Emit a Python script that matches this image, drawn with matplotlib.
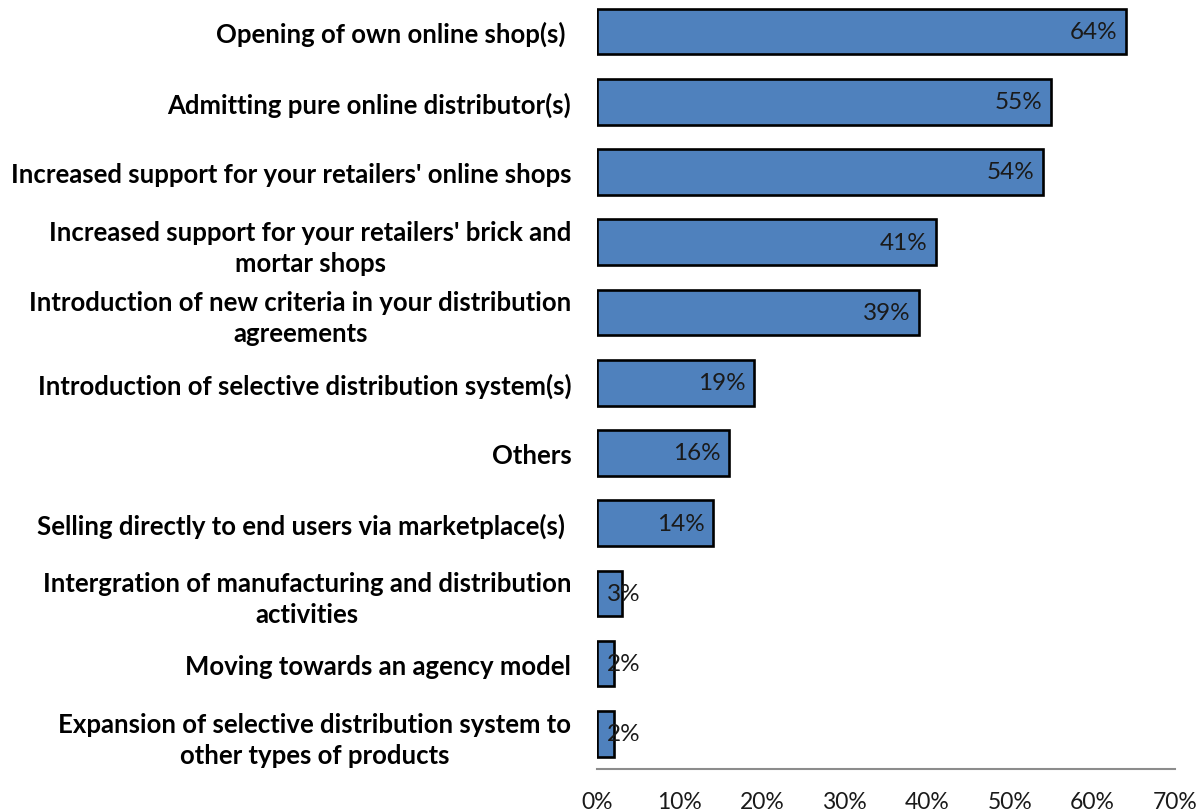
import matplotlib
matplotlib.use("Agg")
import matplotlib.pyplot as plt
from matplotlib.ticker import FuncFormatter

categories = [
    "Opening of own online shop(s) ",
    "Admitting pure online distributor(s)",
    "Increased support for your retailers' online shops",
    "Increased support for your retailers' brick and\nmortar shops",
    "Introduction of new criteria in your distribution\nagreements",
    "Introduction of selective distribution system(s)",
    "Others",
    "Selling directly to end users via marketplace(s) ",
    "Intergration of manufacturing and distribution\nactivities",
    "Moving towards an agency model",
    "Expansion of selective distribution system to\nother types of products",
]
values = [64, 55, 54, 41, 39, 19, 16, 14, 3, 2, 2]
x_ticks = [0, 10, 20, 30, 40, 50, 60, 70]

plt.rcParams["font.family"] = ["Lato", "DejaVu Sans"]

fig = plt.figure(figsize=(12.03, 8.12), dpi=100)
ax = fig.add_axes([0.4963, 0.0517, 0.4805, 0.9515])

n = len(categories)
ypos = list(range(n))
ax.barh(ypos, values, height=0.65, color="#4F81BD", edgecolor="black", linewidth=1.9)

for y, v in zip(ypos, values):
    if v >= 5:
        # label sits inside the bar, against its end
        ax.annotate(f"{v}%", xy=(v, y), xytext=(-6, 0), textcoords="offset points",
                    ha="right", va="center", fontsize=17.5, color="#1a1a1a")
    else:
        # bar too short: label starts just inside the bar and runs past it
        ax.annotate(f"{v}%", xy=(0, y), xytext=(7, 0), textcoords="offset points",
                    ha="left", va="center", fontsize=17.5, color="#1a1a1a")

ax.set_ylim(n - 0.5, -0.5)
ax.set_xlim(0, 70)
ax.set_xticks(x_ticks)
ax.xaxis.set_major_formatter(FuncFormatter(lambda v, p: f"{int(v)}%"))
ax.set_yticks(ypos)
ax.set_yticklabels(categories, fontsize=18.5, fontweight="bold",
                   multialignment="center", linespacing=1.35)

for s in ["top", "right", "left"]:
    ax.spines[s].set_visible(False)
ax.spines["bottom"].set_color("#8c8c8c")
ax.spines["bottom"].set_linewidth(1.5)
ax.tick_params(axis="x", length=0, pad=16, labelsize=16.5, labelcolor="#1a1a1a")
ax.tick_params(axis="y", length=0, pad=18.5)

fig.savefig("out.png", dpi=100, facecolor="white")
